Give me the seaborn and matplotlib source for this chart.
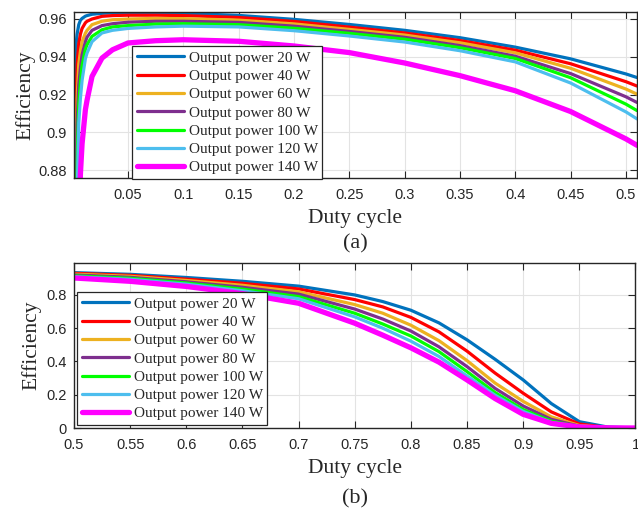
import numpy as np
import pandas as pd
import matplotlib
matplotlib.use("Agg")
import matplotlib.pyplot as plt
from matplotlib.ticker import FormatStrFormatter
import seaborn as sns

# valores
labels = ["Output power 20 W", "Output power 40 W", "Output power 60 W",
          "Output power 80 W", "Output power 100 W", "Output power 120 W",
          "Output power 140 W"]
colors = ["#0072BD", "#FF0000", "#EDB120", "#7E2F8E", "#00FF00", "#4DBEEE", "#FF00FF"]

# (a) duty cycle 0 - 0.51
duty_a = [0.0014, 0.002, 0.003, 0.004, 0.0055, 0.007, 0.0085, 0.0115, 0.013, 0.0175,
          0.0265, 0.036, 0.05, 0.075, 0.1, 0.15, 0.2, 0.25, 0.3, 0.35, 0.4, 0.45, 0.5, 0.51]
eff_a_20 = [0.924, 0.935, 0.946, 0.952, 0.957, 0.9593, 0.9603, 0.9615, 0.9618, 0.9625,
            0.963, 0.9632, 0.9633, 0.9632, 0.963, 0.9619, 0.9598, 0.9571, 0.954, 0.9501,
            0.9451, 0.9389, 0.9309, 0.929]
eff_a_40 = [0.85, 0.88, 0.915, 0.936, 0.947, 0.952, 0.955, 0.958, 0.9588, 0.960,
            0.9614, 0.9618, 0.962, 0.962, 0.9618, 0.9608, 0.9587, 0.9557, 0.9526, 0.9486,
            0.9435, 0.9363, 0.9268, 0.9245]
eff_a_60 = [0.80, 0.84, 0.885, 0.918, 0.936, 0.943, 0.948, 0.9525, 0.954, 0.957,
            0.9588, 0.9596, 0.960, 0.9603, 0.9602, 0.9594, 0.9574, 0.9545, 0.9515, 0.9474,
            0.9421, 0.9339, 0.9229, 0.9202]
eff_a_80 = [0.78, 0.82, 0.865, 0.904, 0.925, 0.934, 0.941, 0.948, 0.9504, 0.954,
            0.9565, 0.9575, 0.9583, 0.9588, 0.9588, 0.9582, 0.9562, 0.9534, 0.9503, 0.9459,
            0.9403, 0.9311, 0.9188, 0.9158]
eff_a_100 = [0.76, 0.80, 0.845, 0.885, 0.915, 0.927, 0.9355, 0.944, 0.9464, 0.9508,
             0.9543, 0.9558, 0.9565, 0.9573, 0.9575, 0.957, 0.9551, 0.9524, 0.9493, 0.9448,
             0.9391, 0.9289, 0.9149, 0.9115]
eff_a_120 = [0.74, 0.78, 0.82, 0.865, 0.905, 0.918, 0.9275, 0.939, 0.942, 0.948,
             0.9526, 0.954, 0.955, 0.9558, 0.9562, 0.9558, 0.9538, 0.951, 0.9478, 0.9432,
             0.9373, 0.9261, 0.9108, 0.9071]
eff_a_140 = [0.70, 0.73, 0.77, 0.80, 0.845, 0.878, 0.894, 0.912, 0.917, 0.9296,
             0.9393, 0.9437, 0.9473, 0.9485, 0.949, 0.9482, 0.9457, 0.9422, 0.9367, 0.930,
             0.922, 0.911, 0.8965, 0.8931]

# (b) duty cycle 0.5 - 1
duty_b = [0.5, 0.55, 0.6, 0.65, 0.7, 0.75, 0.775, 0.8, 0.825, 0.85,
          0.875, 0.9, 0.925, 0.95, 0.975, 1.0]
eff_b_20 = [0.934, 0.924, 0.905, 0.882, 0.853, 0.800, 0.760, 0.708, 0.632, 0.530,
            0.413, 0.289, 0.147, 0.038, 0.006, 0.0]
eff_b_40 = [0.930, 0.918, 0.895, 0.870, 0.836, 0.772, 0.728, 0.665, 0.578, 0.462,
            0.330, 0.209, 0.097, 0.024, 0.003, 0.0]
eff_b_60 = [0.925, 0.912, 0.887, 0.858, 0.819, 0.742, 0.690, 0.618, 0.525, 0.405,
            0.270, 0.160, 0.067, 0.015, 0.002, 0.0]
eff_b_80 = [0.920, 0.906, 0.879, 0.846, 0.805, 0.715, 0.655, 0.583, 0.488, 0.369,
            0.238, 0.132, 0.052, 0.011, 0.001, 0.0]
eff_b_100 = [0.915, 0.900, 0.872, 0.835, 0.790, 0.690, 0.625, 0.553, 0.459, 0.339,
             0.213, 0.111, 0.041, 0.008, 0.001, 0.0]
eff_b_120 = [0.910, 0.894, 0.865, 0.825, 0.777, 0.668, 0.600, 0.522, 0.430, 0.313,
             0.197, 0.100, 0.034, 0.006, 0.001, 0.0]
eff_b_140 = [0.902, 0.882, 0.851, 0.808, 0.750, 0.630, 0.558, 0.482, 0.396, 0.289,
             0.177, 0.082, 0.028, 0.006, 0.001, 0.0]

series_a = [eff_a_20, eff_a_40, eff_a_60, eff_a_80, eff_a_100, eff_a_120, eff_a_140]
series_b = [eff_b_20, eff_b_40, eff_b_60, eff_b_80, eff_b_100, eff_b_120, eff_b_140]
widths = [2.3, 2.3, 2.3, 2.3, 2.3, 2.3, 3.8]

sns.set_theme(style="whitegrid")
serif = ["Liberation Serif", "DejaVu Serif"]
sans = ["Liberation Sans", "DejaVu Sans"]
plt.rcParams["font.family"] = sans

fig = plt.figure(figsize=(6.38, 5.11), dpi=100)
ax_a = fig.add_axes([74 / 638, 1 - 178 / 511, 563 / 638, 166 / 511])
ax_b = fig.add_axes([74 / 638, 1 - 428 / 511, 561.5 / 638, 165 / 511])


def desenha(ax, duty, series, ypad):
    for vals, lab, cor, lw in zip(series, labels, colors, widths):
        df = pd.DataFrame({"duty": duty, "eff": vals})
        sns.lineplot(data=df, x="duty", y="eff", ax=ax, color=cor, linewidth=lw,
                     label=lab, sort=False)
    ax.set_facecolor("white")
    ax.grid(True, color="#e3e3e3", linewidth=0.8)
    for s in ax.spines.values():
        s.set_color("#262626")
        s.set_linewidth(1.0)
        s.set_visible(True)
    ax.tick_params(direction="in", length=5, width=0.8, color="#262626",
                   top=True, right=True, bottom=True, left=True,
                   labelsize=10.5, labelcolor="#262626")
    ax.tick_params(axis="x", pad=7)
    ax.tick_params(axis="y", pad=5)
    ax.xaxis.set_major_formatter(FormatStrFormatter("%g"))
    ax.yaxis.set_major_formatter(FormatStrFormatter("%g"))
    ax.set_xlabel("Duty cycle", family=serif, fontsize=15.5, color="#262626", labelpad=5)
    ax.set_ylabel("Efficiency", family=serif, fontsize=15.5, color="#262626", labelpad=ypad)


def legenda(ax, x0, y0):
    leg = ax.legend(loc="lower left", bbox_to_anchor=(x0 / 638, 1 - y0 / 511),
                    bbox_transform=fig.transFigure, borderaxespad=0, fancybox=False,
                    framealpha=1, edgecolor="#262626", prop={"family": serif, "size": 11},
                    handlelength=3.1, handletextpad=0.3, labelspacing=0.3, borderpad=0.3)
    leg.get_frame().set_linewidth(0.9)


desenha(ax_a, duty_a, series_a, 2.5)
ax_a.set_xlim(0.0012, 0.51)
ax_a.set_ylim(0.8758, 0.9637)
ax_a.set_xticks(np.arange(0.05, 0.51, 0.05))
ax_a.set_yticks([0.88, 0.9, 0.92, 0.94, 0.96])
legenda(ax_a, 132, 179)

desenha(ax_b, duty_b, series_b, 4)
ax_b.set_xlim(0.5, 1.0)
ax_b.set_ylim(0, 0.992)
ax_b.set_xticks(np.arange(0.5, 1.001, 0.05))
ax_b.set_yticks([0, 0.2, 0.4, 0.6, 0.8])
legenda(ax_b, 77, 425)

fig.text(355 / 638, 1 - 244 / 511, "(a)", family=serif, fontsize=16,
         ha="center", va="center", color="#262626")
fig.text(355 / 638, 1 - 499 / 511, "(b)", family=serif, fontsize=16,
         ha="center", va="center", color="#262626")

fig.savefig("out.png", dpi=100, facecolor="white")
